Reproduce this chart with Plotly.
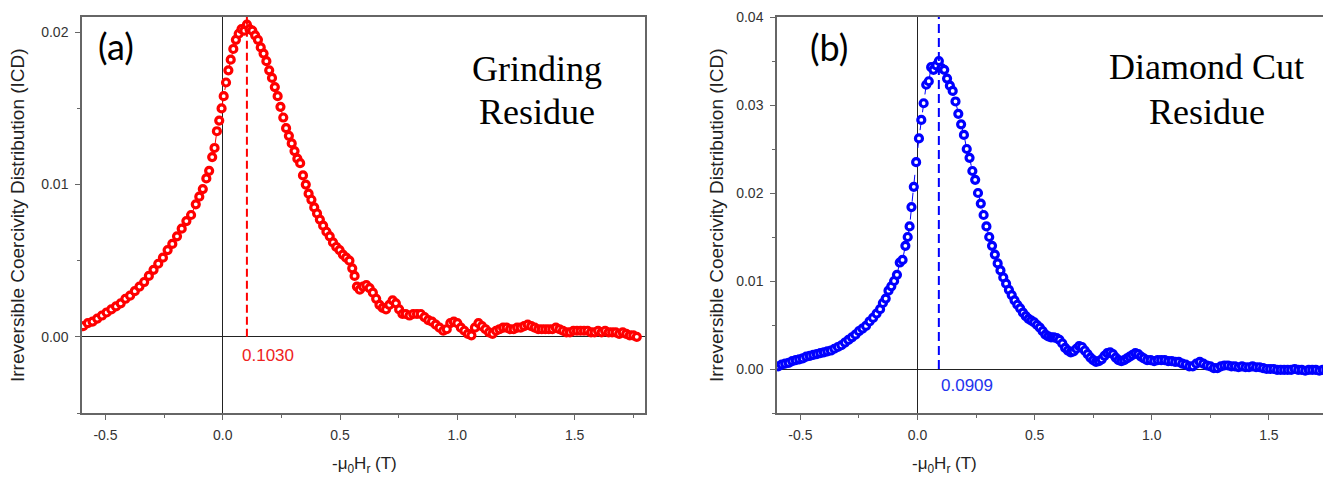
import plotly.graph_objects as go

# ---- data ----
# (a) Grinding residue
field_a = [-0.595, -0.575, -0.555, -0.535, -0.515, -0.495, -0.475, -0.455, -0.435, -0.415,
           -0.395, -0.375, -0.355, -0.335, -0.315, -0.295, -0.275, -0.255, -0.235, -0.215,
           -0.195, -0.175, -0.155, -0.135, -0.115, -0.100, -0.085, -0.070, -0.058, -0.045,
           -0.035, -0.025, -0.015, -0.005, 0.004, 0.014, 0.024, 0.034, 0.045, 0.056,
           0.068, 0.080, 0.092, 0.103, 0.114, 0.126, 0.138, 0.150, 0.162, 0.174,
           0.186, 0.198, 0.210, 0.222, 0.234, 0.246, 0.258, 0.270, 0.282, 0.294,
           0.306, 0.318, 0.330, 0.342, 0.354, 0.366, 0.378, 0.390, 0.402, 0.414,
           0.428, 0.442, 0.456, 0.470, 0.484, 0.498, 0.512, 0.526, 0.540, 0.552,
           0.562, 0.572, 0.584, 0.598, 0.612, 0.626, 0.640, 0.654, 0.668, 0.682,
           0.696, 0.710, 0.724, 0.738, 0.752, 0.766, 0.780, 0.796, 0.812, 0.828,
           0.844, 0.860, 0.876, 0.892, 0.908, 0.924, 0.940, 0.955, 0.970, 0.985,
           1.000, 1.015, 1.030, 1.045, 1.060, 1.075, 1.090, 1.105, 1.120, 1.135,
           1.150, 1.165, 1.180, 1.195, 1.210, 1.225, 1.240, 1.255, 1.270, 1.285,
           1.300, 1.315, 1.330, 1.345, 1.360, 1.375, 1.390, 1.405, 1.420, 1.435,
           1.450, 1.465, 1.480, 1.495, 1.510, 1.525, 1.540, 1.555, 1.570, 1.585,
           1.600, 1.615, 1.630, 1.645, 1.660, 1.675, 1.690, 1.705, 1.720, 1.735,
           1.750, 1.765]
icd_a = [0.0007, 0.0009, 0.0010, 0.0012, 0.0014, 0.0016, 0.0018, 0.0020, 0.0022, 0.0025,
         0.0027, 0.0030, 0.0033, 0.0036, 0.0040, 0.0044, 0.0048, 0.0052, 0.0057, 0.0061,
         0.0066, 0.0071, 0.0076, 0.0080, 0.0087, 0.0092, 0.0097, 0.0104, 0.0109, 0.0118,
         0.0124, 0.0135, 0.0142, 0.0150, 0.0158, 0.0167, 0.0175, 0.0182, 0.0189, 0.0195,
         0.0199, 0.0202, 0.0201, 0.0205, 0.0202, 0.0201, 0.0198, 0.0195, 0.0190, 0.0186,
         0.0181, 0.0175, 0.0170, 0.0164, 0.0158, 0.0151, 0.0144, 0.0137, 0.0132, 0.0127,
         0.0122, 0.0117, 0.0114, 0.0106, 0.0100, 0.0094, 0.0090, 0.0085, 0.0081, 0.0077,
         0.0073, 0.0069, 0.0066, 0.0062, 0.0059, 0.0057, 0.0054, 0.0052, 0.0050, 0.0045,
         0.0040, 0.0033, 0.0031, 0.0033, 0.0034, 0.0032, 0.0029, 0.0025, 0.0021, 0.0019,
         0.0018, 0.0021, 0.0024, 0.0022, 0.0018, 0.0015, 0.0015, 0.0014, 0.0015, 0.0015,
         0.0015, 0.0013, 0.0011, 0.0010, 0.0008, 0.0006, 0.0004, 0.0005, 0.0009, 0.0010,
         0.0009, 0.0006, 0.0004, 0.0002, 0.0001, 0.0006, 0.0009, 0.0007, 0.0005, 0.0003,
         0.0002, 0.0004, 0.0005, 0.0006, 0.0006, 0.0005, 0.0005, 0.0006, 0.0006, 0.0007,
         0.0008, 0.0007, 0.0006, 0.0005, 0.0005, 0.0005, 0.0005, 0.0005, 0.0006, 0.0005,
         0.0004, 0.0003, 0.0003, 0.0004, 0.0004, 0.0004, 0.0004, 0.0004, 0.0003, 0.0003,
         0.0004, 0.0003, 0.0004, 0.0003, 0.0003, 0.0003, 0.0002, 0.0003, 0.0002, 0.0001,
         0.0001, 0.0000]

# (b) Diamond cut residue
field_b = [-0.595, -0.580, -0.565, -0.550, -0.535, -0.520, -0.505, -0.490, -0.475, -0.460,
           -0.445, -0.430, -0.415, -0.400, -0.385, -0.370, -0.355, -0.340, -0.325, -0.310,
           -0.295, -0.280, -0.265, -0.250, -0.235, -0.220, -0.205, -0.190, -0.175, -0.160,
           -0.148, -0.136, -0.124, -0.112, -0.100, -0.088, -0.076, -0.064, -0.052, -0.042,
           -0.034, -0.026, -0.016, -0.006, 0.006, 0.016, 0.026, 0.037, 0.048, 0.058,
           0.068, 0.080, 0.091, 0.102, 0.114, 0.126, 0.138, 0.150, 0.162, 0.174,
           0.186, 0.198, 0.210, 0.222, 0.234, 0.246, 0.258, 0.270, 0.282, 0.294,
           0.306, 0.318, 0.330, 0.342, 0.354, 0.366, 0.378, 0.390, 0.402, 0.414,
           0.426, 0.438, 0.450, 0.462, 0.474, 0.486, 0.498, 0.510, 0.522, 0.534,
           0.546, 0.558, 0.570, 0.582, 0.594, 0.606, 0.618, 0.630, 0.642, 0.654,
           0.666, 0.678, 0.690, 0.702, 0.714, 0.726, 0.738, 0.750, 0.762, 0.774,
           0.786, 0.798, 0.810, 0.822, 0.834, 0.846, 0.858, 0.870, 0.882, 0.894,
           0.906, 0.918, 0.930, 0.942, 0.954, 0.966, 0.980, 0.995, 1.010, 1.025,
           1.040, 1.055, 1.070, 1.085, 1.100, 1.115, 1.130, 1.145, 1.160, 1.175,
           1.190, 1.205, 1.220, 1.235, 1.250, 1.265, 1.280, 1.295, 1.310, 1.325,
           1.340, 1.355, 1.370, 1.385, 1.400, 1.415, 1.430, 1.445, 1.460, 1.475,
           1.490, 1.505, 1.520, 1.535, 1.550, 1.565, 1.580, 1.595, 1.610, 1.625,
           1.640, 1.655, 1.670, 1.685, 1.700, 1.715, 1.730, 1.745, 1.760]
icd_b = [0.0003, 0.0005, 0.0006, 0.0007, 0.0009, 0.0010, 0.0011, 0.0012, 0.0014, 0.0015,
         0.0016, 0.0017, 0.0018, 0.0019, 0.0020, 0.0021, 0.0023, 0.0025, 0.0027, 0.0030,
         0.0033, 0.0036, 0.0039, 0.0043, 0.0046, 0.0049, 0.0054, 0.0058, 0.0063, 0.0068,
         0.0075, 0.0080, 0.0089, 0.0094, 0.0100, 0.0107, 0.0121, 0.0124, 0.0140, 0.0150,
         0.0162, 0.0184, 0.0207, 0.0235, 0.0262, 0.0283, 0.0302, 0.0323, 0.0327, 0.0343,
         0.0340, 0.0345, 0.0350, 0.0342, 0.0340, 0.0330, 0.0322, 0.0316, 0.0304, 0.0290,
         0.0278, 0.0266, 0.0250, 0.0240, 0.0225, 0.0215, 0.0200, 0.0188, 0.0175, 0.0162,
         0.0150, 0.0140, 0.0130, 0.0120, 0.0112, 0.0104, 0.0097, 0.0090, 0.0084, 0.0078,
         0.0073, 0.0069, 0.0064, 0.0060, 0.0057, 0.0055, 0.0053, 0.0050, 0.0047, 0.0043,
         0.0039, 0.0037, 0.0036, 0.0036, 0.0035, 0.0033, 0.0029, 0.0024, 0.0021, 0.0019,
         0.0020, 0.0023, 0.0026, 0.0025, 0.0021, 0.0017, 0.0013, 0.0010, 0.0008, 0.0009,
         0.0011, 0.0015, 0.0018, 0.0019, 0.0017, 0.0013, 0.0010, 0.0009, 0.0010, 0.0012,
         0.0014, 0.0016, 0.0018, 0.0017, 0.0014, 0.0012, 0.0010, 0.0010, 0.0009, 0.0010,
         0.0010, 0.0010, 0.0009, 0.0009, 0.0008, 0.0008, 0.0006, 0.0005, 0.0003, 0.0003,
         0.0006, 0.0008, 0.0006, 0.0004, 0.0003, 0.0001, 0.0001, 0.0003, 0.0004, 0.0004,
         0.0003, 0.0003, 0.0002, 0.0003, 0.0002, 0.0002, 0.0003, 0.0002, 0.0002, 0.0001,
         0.0000, 0.0000, 0.0000, -0.0001, -0.0001, -0.0001, -0.0001, -0.0001, 0.0000, -0.0001,
         -0.0001, -0.0002, -0.0001, -0.0001, -0.0001, -0.0002, -0.0001, -0.0001, -0.0002]

peak_a = 0.1030
peak_b = 0.0909

x_ticks = [-0.5, 0.0, 0.5, 1.0, 1.5]
x_ticktext = ["-0.5", "0.0", "0.5", "1.0", "1.5"]
y_ticks_a = [0.0, 0.01, 0.02]
y_ticks_b = [0.0, 0.01, 0.02, 0.03, 0.04]

RED = "#ff0000"
BLUE = "#0000ff"
FRAME = "#666666"
TICKFONT = dict(family="Liberation Sans, Arial", size=14, color="#333333")

# the page body has an 8px margin, so the figure is drawn 8px in from the window corner
OFF = 8
W, H = 1331 - OFF, 479 - OFF
TOP, BOT = 17 - OFF, 413 - OFF   # plot area rows (figure pixels)


def px(p):
    # window column -> paper fraction
    return (p - OFF) / W


def py(p):
    # window row -> paper fraction
    return 1 - (p - OFF - TOP) / (BOT - TOP)


fig = go.Figure()

fig.add_trace(go.Scatter(
    x=field_a, y=icd_a, mode="lines+markers", xaxis="x", yaxis="y",
    line=dict(color=RED, width=1, dash="dash"),
    marker=dict(symbol="circle", size=7, color="white", line=dict(color=RED, width=3.2)),
    showlegend=False, hoverinfo="x+y"))

fig.add_trace(go.Scatter(
    x=field_b, y=icd_b, mode="lines+markers", xaxis="x2", yaxis="y2",
    line=dict(color=BLUE, width=1, dash="dash"),
    marker=dict(symbol="circle", size=7, color="white", line=dict(color=BLUE, width=3.2)),
    showlegend=False, hoverinfo="x+y"))


def xaxis_style(domain, rng, mirror):
    return dict(
        domain=domain, range=rng, tickvals=x_ticks, ticktext=x_ticktext,
        ticks="outside", ticklen=5, tickwidth=1, tickcolor=FRAME,
        minor=dict(tick0=0, dtick=0.25, ticks="outside", ticklen=3, tickcolor=FRAME),
        showline=True, linecolor=FRAME, linewidth=1.5, mirror=mirror,
        showgrid=False, zeroline=True, zerolinecolor="#222222", zerolinewidth=1,
        tickfont=TICKFONT, fixedrange=True, ticklabelstandoff=3,
    )


def yaxis_style(anchor, rng, ticks, mirror):
    return dict(
        anchor=anchor, domain=[0, 1], range=rng, tickvals=ticks, tickformat=".2f",
        ticks="outside", ticklen=5, tickwidth=1, tickcolor=FRAME,
        minor=dict(tick0=0, dtick=0.005, ticks="outside", ticklen=3, tickcolor=FRAME),
        showline=True, linecolor=FRAME, linewidth=1.5, mirror=mirror,
        showgrid=False, zeroline=True, zerolinecolor="#222222", zerolinewidth=1,
        tickfont=TICKFONT, fixedrange=True, ticklabelstandoff=4,
    )


fig.update_layout(
    width=W, height=H,
    margin=dict(l=0, r=0, t=TOP, b=H - BOT),
    paper_bgcolor="white", plot_bgcolor="white",
    xaxis=dict(xaxis_style([px(82), px(645)], [-0.6, 1.8], True), anchor="y"),
    yaxis=yaxis_style("x", [-0.005, 0.021], y_ticks_a, True),
    xaxis2=dict(xaxis_style([px(777), 1.0], [-0.6, 1.765], True), anchor="y2"),
    yaxis2=yaxis_style("x2", [-0.005, 0.04], y_ticks_b, False),
)

# dashed peak markers
fig.add_shape(type="line", xref="x", yref="y", x0=peak_a, x1=peak_a, y0=0, y1=0.021,
              line=dict(color=RED, width=2, dash="8px,4px"))
fig.add_shape(type="line", xref="x2", yref="y2", x0=peak_b, x1=peak_b, y0=0, y1=0.04,
              line=dict(color=BLUE, width=2, dash="9px,5px"))

ann = []
ann.append(dict(text=f"{peak_a:.4f}", x=px(240), y=py(355), xref="paper", yref="paper",
                xanchor="left", yanchor="middle", showarrow=False,
                font=dict(family="Liberation Sans, Arial", size=17, color="#ee2222")))
ann.append(dict(text=f"{peak_b:.4f}", x=px(939), y=py(385), xref="paper", yref="paper",
                xanchor="left", yanchor="middle", showarrow=False,
                font=dict(family="Liberation Sans, Arial", size=17, color="#2233ee")))
# panel letters
for label, xc, yc in (("(a)", 116, 46), ("(b)", 829, 47)):
    ann.append(dict(text=label, x=px(xc), y=py(yc), xref="paper", yref="paper",
                    xanchor="center", yanchor="middle", showarrow=False,
                    font=dict(family="Lato, Carlito, sans-serif", size=36, color="black")))
# sample names, one line each
for line, xc, yc in (("Grinding", 537, 69), ("Residue", 537, 112),
                     ("Diamond Cut", 1206, 67), ("Residue", 1207, 112)):
    ann.append(dict(text=line, x=px(xc), y=py(yc), xref="paper", yref="paper",
                    xanchor="center", yanchor="middle", showarrow=False,
                    font=dict(family="Liberation Serif, Times New Roman", size=36,
                              color="black")))
# axis titles
ytitle = "Irreversible Coercivity Distribution (ICD)"
xtitle = "-\u03bc<sub>0</sub>H<sub>r</sub> (T)"
for xc in (17, 716):
    ann.append(dict(text=ytitle, x=px(xc), y=py(215), xref="paper", yref="paper",
                    xanchor="center", yanchor="middle", textangle=-90, showarrow=False,
                    font=dict(family="Liberation Sans, Arial", size=19, color="#222222")))
for xc in (364, 944):
    ann.append(dict(text=xtitle, x=px(xc), y=py(465), xref="paper",
                    yref="paper", xanchor="center", yanchor="middle", showarrow=False,
                    font=dict(family="Liberation Sans, Arial", size=17, color="#222222")))

fig.update_layout(annotations=ann)

fig.write_html("out.html")
